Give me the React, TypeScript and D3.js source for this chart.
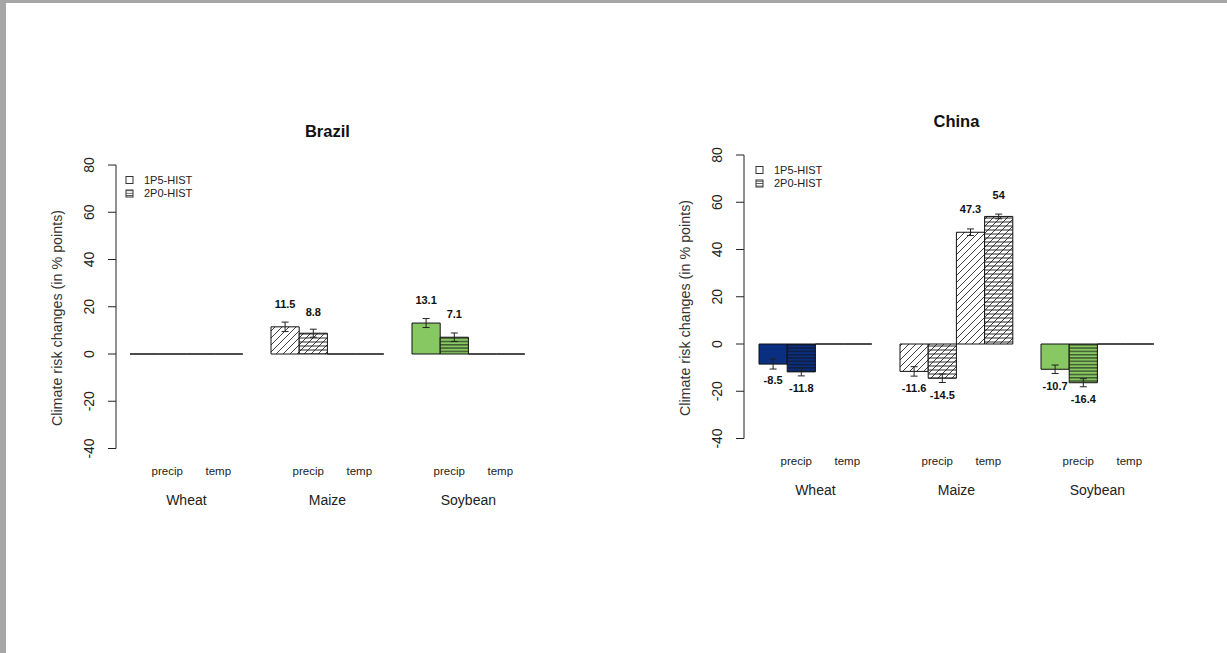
import React from "react";
import * as d3 from "d3";

// ---------- data ----------
const crops = ["Wheat", "Maize", "Soybean"];
const drivers = ["precip", "temp"];
const scenarios = ["1P5-HIST", "2P0-HIST"];
const yTicks = [-40, -20, 0, 20, 40, 60, 80];

// per crop: [precip 1P5, precip 2P0, temp 1P5, temp 2P0]
const brazilValues = [
  [0, 0, 0, 0],
  [11.5, 8.8, 0, 0],
  [13.1, 7.1, 0, 0],
];
const brazilErr = [
  [0, 0, 0, 0],
  [2.0, 1.7, 0, 0],
  [1.9, 1.8, 0, 0],
];
const brazilLabelAt = [
  [0, 0, 0, 0],
  [21.3, 17.9, 0, 0],
  [22.9, 16.9, 0, 0],
];

const chinaValues = [
  [-8.5, -11.8, 0, 0],
  [-11.6, -14.5, 47.3, 54],
  [-10.7, -16.4, 0, 0],
];
const chinaErr = [
  [2.1, 1.7, 0, 0],
  [2.0, 1.8, 1.4, 1.0],
  [1.8, 1.7, 0, 0],
];
const chinaLabelAt = [
  [-15.5, -18.6, 0, 0],
  [-18.6, -21.5, 57.0, 63.1],
  [-17.7, -23.4, 0, 0],
];

// ---------- styles ----------
const FONT = "'Liberation Sans', Arial, Helvetica, sans-serif";
const NAVY = "#0a2f80";
const GREEN = "#88c862";
const cropFill = [NAVY, "#ffffff", GREEN];
// patterns per crop per scenario
const cropPatterns: string[][][] = [
  [[], ["hl"]],
  [["diag"], ["hl2", "diag"]],
  [[], ["hl"]],
];

type Panel = {
  title: string;
  values: number[][];
  errs: number[][];
  labelAt: number[][];
  axisX: number;
  yTop: number;
  yBottom: number;
  barStart: number;
  titleY: number;
  driverY: number;
  cropY: number;
  legendX: number;
  legendY: number;
  ylabY: number;
  ylabX: number;
};

const panels: Panel[] = [
  {
    title: "Brazil",
    values: brazilValues,
    errs: brazilErr,
    labelAt: brazilLabelAt,
    axisX: 116,
    yTop: 165,
    yBottom: 448.5,
    barStart: 130,
    titleY: 137,
    driverY: 475,
    cropY: 505,
    legendX: 126,
    legendY: 176.5,
    ylabY: 318,
    ylabX: 57,
  },
  {
    title: "China",
    values: chinaValues,
    errs: chinaErr,
    labelAt: chinaLabelAt,
    axisX: 744,
    yTop: 155,
    yBottom: 438.5,
    barStart: 759,
    titleY: 127,
    driverY: 465,
    cropY: 495,
    legendX: 756,
    legendY: 166.5,
    ylabY: 308,
    ylabX: 685,
  },
];

const BAR_UNIT = 28.2;

function PanelView({ p }: { p: Panel }) {
  const y = d3.scaleLinear().domain([-40, 80]).range([p.yBottom, p.yTop]);
  // x in bar units: 4 bars per crop, 1 bar gap between crops
  const x = d3
    .scaleLinear()
    .domain([0, 1])
    .range([p.barStart, p.barStart + BAR_UNIT]);
  const y0 = y(0);

  const bars: any[] = [];
  crops.forEach((crop, ci) => {
    p.values[ci].forEach((v, bi) => {
      const u = ci * 5 + bi;
      const x0 = x(u);
      const x1 = x(u + 1);
      const yv = y(v);
      const d = `M${x0},${y0}H${x1}V${yv}H${x0}Z`;
      const scen = bi % 2;
      bars.push({
        key: `${ci}-${bi}`,
        d,
        v,
        err: p.errs[ci][bi],
        label: p.labelAt[ci][bi],
        cx: (x0 + x1) / 2,
        fill: cropFill[ci],
        pats: cropPatterns[ci][scen],
      });
    });
  });

  return (
    <g>
      <text
        x={x(7.0)}
        y={p.titleY}
        textAnchor="middle"
        fontFamily={FONT}
        fontWeight="bold"
        fontSize={16.5}
        fill="#111"
      >
        {p.title}
      </text>
      {/* y axis */}
      <line
        x1={p.axisX}
        x2={p.axisX}
        y1={y(-40)}
        y2={y(80)}
        stroke="#222"
        strokeWidth={1}
      />
      {yTicks.map((t) => (
        <g key={t}>
          <line
            x1={p.axisX - 8}
            x2={p.axisX}
            y1={y(t)}
            y2={y(t)}
            stroke="#222"
          />
          <text
            transform={`translate(${p.axisX - 22},${y(t)}) rotate(-90)`}
            textAnchor="middle"
            fontFamily={FONT}
            fontSize={14}
            fill="#222"
          >
            {t}
          </text>
        </g>
      ))}
      <text
        transform={`translate(${p.ylabX + 5},${p.ylabY}) rotate(-90)`}
        textAnchor="middle"
        fontFamily={FONT}
        fontSize={14.3}
        fill="#333"
      >
        Climate risk changes (in % points)
      </text>
      {/* bars */}
      {bars.map((b) => (
        <g key={b.key}>
          <path d={b.d} fill={b.fill} />
          {b.pats.map((pt: string) => (
            <path key={pt} d={b.d} fill={`url(#${pt})`} />
          ))}
          <path d={b.d} fill="none" stroke="#111" strokeWidth={1} />
        </g>
      ))}
      {/* error bars */}
      {bars
        .filter((b) => b.v !== 0)
        .map((b) => (
          <g key={"e" + b.key} stroke="#222" strokeWidth={1}>
            <line
              x1={b.cx}
              x2={b.cx}
              y1={y(b.v - b.err)}
              y2={y(b.v + b.err)}
            />
            <line
              x1={b.cx - 3.5}
              x2={b.cx + 3.5}
              y1={y(b.v - b.err)}
              y2={y(b.v - b.err)}
            />
            <line
              x1={b.cx - 3.5}
              x2={b.cx + 3.5}
              y1={y(b.v + b.err)}
              y2={y(b.v + b.err)}
            />
          </g>
        ))}
      {/* value labels */}
      {bars
        .filter((b) => b.v !== 0)
        .map((b) => (
          <text
            key={"l" + b.key}
            x={b.cx}
            y={y(b.label)}
            dy="0.35em"
            textAnchor="middle"
            fontFamily={FONT}
            fontWeight="bold"
            fontSize={11}
            fill="#111"
          >
            {b.v}
          </text>
        ))}
      {/* category labels */}
      {crops.map((crop, ci) => (
        <g key={crop}>
          {drivers.map((dr, di) => (
            <text
              key={dr}
              x={x(ci * 5 + (di === 0 ? 1.32 : 3.13))}
              y={p.driverY}
              textAnchor="middle"
              fontFamily={FONT}
              fontSize={11.5}
              fill="#222"
            >
              {dr}
            </text>
          ))}
          <text
            x={x(ci * 5 + 2.0)}
            y={p.cropY}
            textAnchor="middle"
            fontFamily={FONT}
            fontSize={14}
            fill="#222"
          >
            {crop}
          </text>
        </g>
      ))}
      {/* legend */}
      {scenarios.map((s, si) => (
        <g key={s}>
          <rect
            x={p.legendX}
            y={p.legendY + si * 13.5}
            width={7}
            height={7}
            fill="#fff"
          />
          {si === 1 && (
            <rect
              x={p.legendX}
              y={p.legendY + si * 13.5}
              width={7}
              height={7}
              fill="url(#hlLeg)"
            />
          )}
          <rect
            x={p.legendX}
            y={p.legendY + si * 13.5}
            width={7}
            height={7}
            fill="none"
            stroke="#333"
          />
          <text
            x={p.legendX + 18}
            y={p.legendY + si * 13.5 + 3.5}
            dy="0.35em"
            fontFamily={FONT}
            fontSize={11}
            fill="#222"
          >
            {s}
          </text>
        </g>
      ))}
    </g>
  );
}

export default function App() {
  return (
    <div
      style={{
        position: "fixed",
        left: 0,
        top: 0,
        width: 1227,
        height: 653,
        background: "#fff",
      }}
    >
      <svg width={1227} height={653} style={{ display: "block" }}>
        <defs>
          <pattern id="hl" patternUnits="userSpaceOnUse" width={8} height={3.3}>
            <line x1={0} x2={8} y1={1.6} y2={1.6} stroke="#111" strokeWidth={0.9} />
          </pattern>
          <pattern id="hl2" patternUnits="userSpaceOnUse" width={8} height={4.0}>
            <line x1={0} x2={8} y1={2} y2={2} stroke="#111" strokeWidth={0.9} />
          </pattern>
          <pattern id="hlLeg" patternUnits="userSpaceOnUse" width={8} height={2.4}>
            <line x1={0} x2={8} y1={1.2} y2={1.2} stroke="#333" strokeWidth={0.8} />
          </pattern>
          <pattern id="diag" patternUnits="userSpaceOnUse" width={7} height={7}>
            <path
              d="M-1,8 L8,-1 M-1,1 L1,-1 M6,8 L8,6"
              stroke="#111"
              strokeWidth={0.8}
            />
          </pattern>
        </defs>
        <rect x={0} y={0} width={1227} height={653} fill="#fff" />
        <rect x={0} y={0} width={1227} height={3} fill="#a6a6a6" />
        <rect x={0} y={0} width={6} height={653} fill="#a6a6a6" />
        {panels.map((p) => (
          <PanelView key={p.title} p={p} />
        ))}
      </svg>
    </div>
  );
}
